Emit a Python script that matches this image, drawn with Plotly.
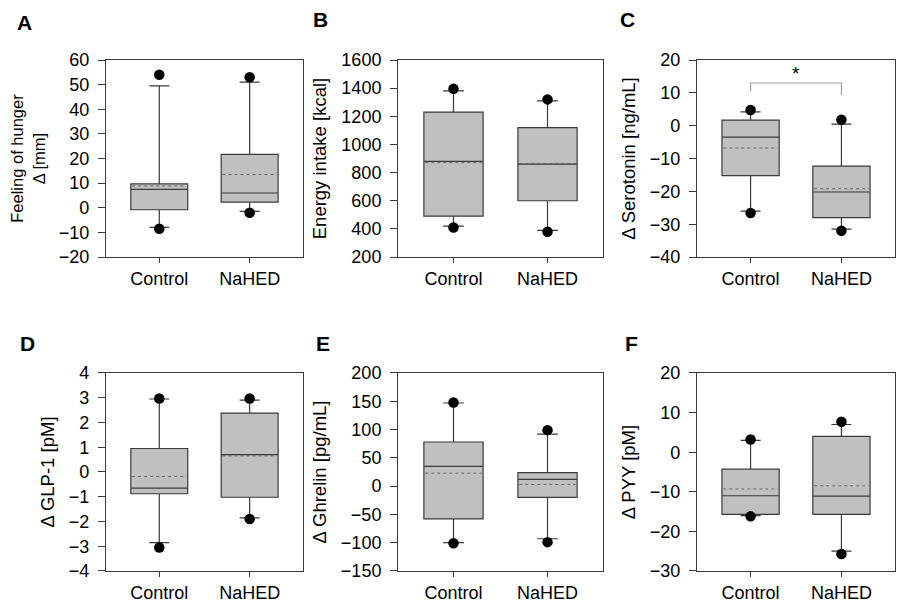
import plotly.graph_objects as go
from plotly.subplots import make_subplots

# ---------------- data ----------------
groups = ["Control", "NaHED"]
group_pos = [0, 1]
panel_letters = ["A", "B", "C", "D", "E", "F"]
y_titles = [
    "Feeling of hunger<br>Δ [mm]",
    "Energy intake [kcal]",
    "Δ Serotonin [ng/mL]",
    "Δ GLP-1 [pM]",
    "Δ Ghrelin [pg/mL]",
    "Δ PYY [pM]",
]
# per panel: [Control, NaHED]
q1 = [[-0.8, 2.3], [490, 600], [-15.2, -28.0], [-0.88, -1.02], [-58, -20], [-15.7, -15.7]]
medians = [[7.5, 6.0], [880, 860], [-3.5, -20.2], [-0.65, 0.70], [35, 12], [-11.0, -11.1]]
q3 = [[9.7, 21.7], [1230, 1120], [1.7, -12.3], [0.95, 2.38], [78, 24], [-4.3, 4.0]]
means = [[8.8, 13.5], [870, 865], [-6.8, -19.2], [-0.18, 0.65], [23, 3], [-9.3, -8.5]]
lower_whisker = [[-8.0, -1.5], [420, 390], [-26.0, -31.5], [-2.85, -1.85], [-100, -93], [-16.0, -25.0]]
upper_whisker = [[49.5, 51.0], [1380, 1310], [4.2, 0.5], [2.95, 2.90], [147, 92], [3.0, 7.0]]
outlier_low = [[-8.5, -2.0], [410, 380], [-26.6, -32.0], [-3.05, -1.90], [-101, -99], [-16.2, -25.7]]
outlier_high = [[54.0, 53.0], [1395, 1320], [4.8, 1.8], [2.97, 2.97], [148, 99], [3.2, 7.7]]
y_ranges = [[-20, 60], [200, 1600], [-40, 20], [-4, 4], [-150, 200], [-30, 20]]
y_dticks = [10, 200, 10, 1, 50, 10]

# significance bracket in panel C (Control vs NaHED)
sig_panel = 2
sig_bracket_top = 13.0
sig_leg_bottom = [10.5, 9.3]
sig_label = "*"
sig_label_y = 16.0

# ---------------- style ----------------
FONT = "Liberation Sans, Arial, sans-serif"
BOX_FILL = "#c0c0c0"
LINE_COL = "#3a3a3a"
BOX_W = 0.63
MEAN_HW = 0.30
title_sizes = [16.5, 18.5, 18.5, 18.5, 18.5, 18.5]

x_domains = [[0.1080, 0.3252], [0.4300, 0.6560], [0.7596, 0.9780]]
y_domains = [[0.5877, 0.9139], [0.0679, 0.3957]]
letter_pos = [(16, 15), (312, 11), (619, 11), (19, 335), (315, 335), (623, 335)]
W, H = 907, 604

fig = make_subplots(rows=2, cols=3)

for i in range(6):
    r, c = i // 3 + 1, i % 3 + 1
    fig.add_trace(go.Box(
        x=group_pos, q1=q1[i], median=medians[i], q3=q3[i],
        lowerfence=lower_whisker[i], upperfence=upper_whisker[i],
        width=BOX_W, whiskerwidth=0.35, boxpoints=False,
        fillcolor=BOX_FILL, line=dict(color=LINE_COL, width=1.2),
        showlegend=False, hoverinfo="skip",
    ), row=r, col=c)
    mx, my = [], []
    for g, m in zip(group_pos, means[i]):
        mx += [g - MEAN_HW, g + MEAN_HW, None]
        my += [m, m, None]
    fig.add_trace(go.Scatter(
        x=mx, y=my, mode="lines",
        line=dict(color="#666666", width=1, dash="dot"),
        showlegend=False, hoverinfo="skip",
    ), row=r, col=c)
    ox, oy = [], []
    for g, lo, hi in zip(group_pos, outlier_low[i], outlier_high[i]):
        ox += [g, g]
        oy += [lo, hi]
    fig.add_trace(go.Scatter(
        x=ox, y=oy, mode="markers",
        marker=dict(color="black", size=10.5),
        showlegend=False, hoverinfo="skip",
    ), row=r, col=c)
    if i == sig_panel:
        fig.add_trace(go.Scatter(
            x=[group_pos[0], group_pos[0], group_pos[1], group_pos[1]],
            y=[sig_leg_bottom[0], sig_bracket_top, sig_bracket_top, sig_leg_bottom[1]],
            mode="lines", line=dict(color="#a0a0a0", width=1.2),
            showlegend=False, hoverinfo="skip",
        ), row=r, col=c)
        fig.add_annotation(
            x=0.5, y=sig_label_y, xref="x3", yref="y3", text=sig_label,
            showarrow=False, font=dict(size=19, family=FONT, color="black"),
            xanchor="center", yanchor="middle",
        )

    axn = "" if i == 0 else str(i + 1)
    fig.layout["xaxis" + axn].update(
        domain=x_domains[c - 1], range=[-0.59, 1.59],
        tickmode="array", tickvals=group_pos, ticktext=groups,
        ticks="outside", ticklen=5, tickwidth=1, tickcolor=LINE_COL,
        showline=True, linecolor=LINE_COL, linewidth=1, mirror=True,
        showgrid=False, zeroline=False,
        tickfont=dict(size=18, family=FONT, color="black"),
        automargin=False,
    )
    fig.layout["yaxis" + axn].update(
        domain=y_domains[r - 1], range=y_ranges[i],
        tick0=y_ranges[i][0], dtick=y_dticks[i],
        ticks="outside", ticklen=7, tickwidth=1, tickcolor=LINE_COL,
        ticklabelstandoff=5,
        showline=True, linecolor=LINE_COL, linewidth=1, mirror=True,
        showgrid=False, zeroline=False,
        tickfont=dict(size=18, family=FONT, color="black"),
        title=dict(text=y_titles[i], font=dict(size=title_sizes[i], family=FONT, color="black"), standoff=9),
        automargin=False,
    )
    lx, ly = letter_pos[i]
    fig.add_annotation(
        x=lx / W, y=1 - ly / H, xref="paper", yref="paper",
        text="<b>" + panel_letters[i] + "</b>", showarrow=False,
        font=dict(size=21, family=FONT, color="black"),
        xanchor="center", yanchor="middle",
    )

fig.update_layout(
    width=W, height=H, margin=dict(l=0, r=0, t=0, b=0),
    paper_bgcolor="white", plot_bgcolor="white",
    font=dict(family=FONT, color="black"),
)

fig.write_html("out.html")
